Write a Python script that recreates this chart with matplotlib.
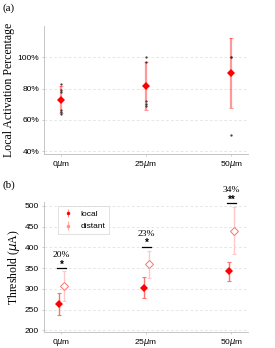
import matplotlib
matplotlib.use('Agg')
import matplotlib.pyplot as plt
import numpy as np

# panel (a) data
distances = ['0$\\mu$m', '25$\\mu$m', '50$\\mu$m']
act_mean = [0.73, 0.815, 0.90]
act_err = [0.085, 0.155, 0.225]
act_points = [
    [0.83, 0.79, 0.78, 0.66, 0.65, 0.64],
    [1.00, 0.97, 0.72, 0.70, 0.69],
    [1.00, 1.00, 0.50],
]

# panel (b) data
local_mean = [264, 303, 343]
local_err = [26, 25, 23]
distant_mean = [307, 359, 440]
distant_err = [37, 32, 57]
sig_line = [350, 401, 507]
sig_stars = ['*', '*', '**']
sig_pct = ['20%', '23%', '34%']

serif = 'Liberation Serif'
sans = 'Liberation Sans'
grid_col = '#dddddd'
spine_col = '#bbbbbb'


def style_axes(ax):
    for s in ['top', 'right']:
        ax.spines[s].set_visible(False)
    for s in ['left', 'bottom']:
        ax.spines[s].set_color(spine_col)
        ax.spines[s].set_linewidth(0.6)
    ax.tick_params(length=1.5, width=0.5, color=spine_col, labelsize=6, pad=2)
    for lab in ax.get_xticklabels() + ax.get_yticklabels():
        lab.set_fontfamily(sans)
    ax.yaxis.grid(True, linestyle=(0, (4, 3)), color=grid_col, linewidth=0.5)
    ax.set_axisbelow(True)


def main():
    fig = plt.figure(figsize=(2.75, 3.48), dpi=100)
    x = np.arange(len(distances))

    # ---- (a)
    ax1 = fig.add_axes([0.16, 0.557, 0.742, 0.368])
    ax1.errorbar(x, act_mean, yerr=act_err, fmt='none', ecolor='red', alpha=0.4,
                 elinewidth=1.6, capsize=1.2, capthick=0.8)
    ax1.plot(x, act_mean, 'D', color='red', markersize=4, markeredgewidth=0)
    for i, pts in enumerate(act_points):
        ax1.plot([x[i]] * len(pts), pts, '.', color='#333333', markersize=1.2)
    ax1.set_xlim(-0.2, 2.2)
    ax1.set_ylim(0.38, 1.2)
    ax1.set_yticks([0.4, 0.6, 0.8, 1.0])
    ax1.set_yticklabels(['40%', '60%', '80%', '100%'])
    ax1.set_xticks(x)
    ax1.set_xticklabels(distances)
    style_axes(ax1)
    ax1.set_ylabel('Local Activation Percentage', fontfamily=serif, fontsize=8.5, labelpad=2)
    fig.text(0.01, 0.99, '(a)', fontfamily=serif, fontsize=8, va='top')

    # ---- (b)
    ax2 = fig.add_axes([0.16, 0.046, 0.742, 0.374])
    xl = x - 0.025
    xd = x + 0.035
    ax2.errorbar(xl, local_mean, yerr=local_err, fmt='none', ecolor='#ff7070',
                 elinewidth=1.0, capsize=1.2, capthick=0.8)
    ax2.errorbar(xd, distant_mean, yerr=distant_err, fmt='none', ecolor='#ffc8c8',
                 elinewidth=1.0, capsize=1.2, capthick=0.8)
    ax2.plot(xl, local_mean, 'D', color='red', markersize=4, markeredgewidth=0)
    ax2.plot(xd, distant_mean, 'D', mfc='white', mec='#ff7070', markersize=4.5,
             markeredgewidth=0.7)
    # legend proxies
    ax2.errorbar([], [], yerr=[], fmt='.', color='red', ecolor='#ff9090', markersize=3,
                 elinewidth=0.8, capsize=1, label='local')
    ax2.errorbar([], [], yerr=[], fmt='.', color='#ff9090', ecolor='#ffb0b0', markersize=3,
                 elinewidth=0.8, capsize=1, label='distant')
    for i in range(len(x)):
        mid = (xl[i] + xd[i]) / 2
        ax2.plot([mid - 0.05, mid + 0.05], [sig_line[i]] * 2, color='black', linewidth=0.9)
        ax2.text(mid, sig_line[i] + 9, sig_stars[i], ha='center', va='center',
                 fontsize=7, fontfamily=sans, fontweight='bold')
        ax2.text(mid, sig_line[i] + 31, sig_pct[i], ha='center', va='center',
                 fontsize=6.8, fontfamily=serif, clip_on=False)
    ax2.set_xlim(-0.2, 2.2)
    ax2.set_ylim(196, 510)
    ax2.set_yticks([200, 250, 300, 350, 400, 450, 500])
    ax2.set_xticks(x)
    ax2.set_xticklabels(distances)
    style_axes(ax2)
    ax2.set_ylabel('Threshold ($\\mu$A)', fontfamily=serif, fontsize=8.5, labelpad=2)
    leg = ax2.legend(loc='upper left', bbox_to_anchor=(0.05, 1.0), prop={'family': sans, 'size': 6},
                     frameon=True, fancybox=False, edgecolor='#cccccc', handlelength=1.4,
                     borderpad=0.45, labelspacing=0.6)
    leg.get_frame().set_linewidth(0.5)
    fig.text(0.01, 0.483, '(b)', fontfamily=serif, fontsize=8, va='top')

    fig.savefig('out.png', dpi=100)


if __name__ == "__main__":
    main()
